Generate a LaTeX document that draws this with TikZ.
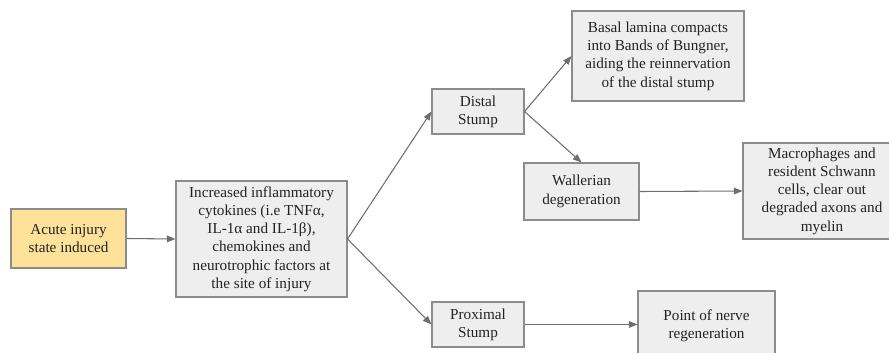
\documentclass[tikz,border=0pt]{standalone}
\usepackage{fontspec}
\setmainfont{Liberation Serif}
\usetikzlibrary{arrows.meta}
\definecolor{boxfill}{HTML}{EEEEEE}
\definecolor{boxline}{HTML}{8C8C8C}
\definecolor{yellowfill}{HTML}{FFE299}
\definecolor{arrowcol}{HTML}{6E6E6E}
\definecolor{textcol}{HTML}{222222}
\begin{document}
\begin{tikzpicture}[x=0.75pt,y=-0.75pt,
  box/.style={draw=boxline, fill=boxfill, line width=0.8pt, inner sep=0pt, align=center, text=textcol,
    font=\fontsize{11.4}{13.7}\selectfont},
  ar/.style={draw=arrowcol, line width=0.8pt, -{Triangle[length=6.5pt,width=5pt]}}]
\useasboundingbox (0,0) rectangle (889,353);
\node[box, fill=yellowfill, minimum width=86.25pt, minimum height=44.25pt] (acute) at (68.5,238.5) {Acute injury\\state induced};
\node[box, minimum width=128.25pt, minimum height=87pt] (inc) at (261.5,239) {Increased inflammatory\\cytokines (i.e TNFα,\\IL-1α and IL-1β),\\chemokines and\\neurotrophic factors at\\the site of injury};
\node[box, minimum width=69pt, minimum height=33.75pt] (distal) at (478,111.5) {Distal\\Stump};
\node[box, minimum width=129pt, minimum height=67.5pt] (basal) at (658,56) {Basal lamina compacts\\into Bands of Bungner,\\aiding the reinnervation\\of the distal stump};
\node[box, minimum width=86.25pt, minimum height=42.75pt] (wall) at (581.5,191.5) {Wallerian\\degeneration};
\node[box, minimum width=118.5pt, minimum height=72pt] (macro) at (822,191) {Macrophages and\\resident Schwann\\cells, clear out\\degraded axons and\\myelin};
\node[box, minimum width=69pt, minimum height=33.75pt] (prox) at (478,324.5) {Proximal\\Stump};
\node[box, minimum width=102.75pt, minimum height=52.5pt] (point) at (706.5,326) {Point of nerve\\regeneration};
\draw[ar] (acute.east) -- (inc.west);
\draw[ar] (inc.east) -- (distal.west);
\draw[ar] (inc.east) -- (prox.west);
\draw[ar] (distal.east) -- (basal.west);
\draw[ar] (distal.east) -- (wall.north);
\draw[ar] (wall.east) -- (macro.west);
\draw[ar] (prox.east) -- (point.west |- prox.east);
\end{tikzpicture}
\end{document}
